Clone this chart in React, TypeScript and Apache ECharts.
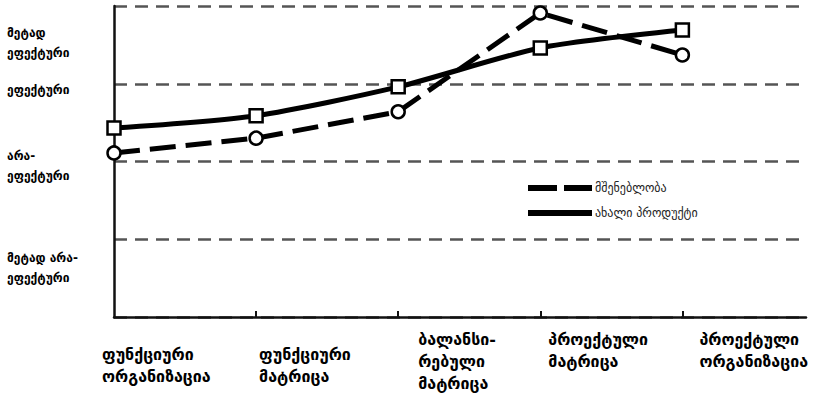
import React, { useEffect, useRef } from "react";
import * as echarts from "echarts";

// ---- data ----
const categories = [
  "ფუნქციური\nორგანიზაცია",
  "ფუნქციური\nმატრიცა",
  "ბალანსი-\nრებული\nმატრიცა",
  "პროექტული\nმატრიცა",
  "პროექტული\nორგანიზაცია",
];
const yLevelLabels = [
  "მეტად\nეფექტური",
  "ეფექტური",
  "არა-\nეფექტური",
  "მეტად არა-\nეფექტური",
];
const seriesNames = ["მშენებლობა", "ახალი პროდუქტი"];
const constructionValues = [2.11, 2.3, 2.64, 3.91, 3.37];
const newProductValues = [2.43, 2.59, 2.96, 3.46, 3.69];

// ---- layout (not data) ----
const yLabelAnchors = [3.52, 2.92, 1.94, 0.63];
const xLabelShift: [number, number][] = [
  [-12, 26],
  [3, 26],
  [20, 11],
  [8, 11],
  [17, 11],
];
const FONT = "'DejaVu Sans', sans-serif";

export default function App() {
  const ref = useRef<HTMLDivElement>(null);
  useEffect(() => {
    if (!ref.current) return;
    const chart = echarts.init(ref.current, undefined, { renderer: "svg" });
    const option: any = {
      animation: false,
      backgroundColor: "#ffffff",
      grid: { left: 114, top: 6, right: 18, bottom: 81, containLabel: false },
      xAxis: {
        type: "value",
        min: 0,
        max: 4.87,
        interval: 1,
        axisLine: { show: true, onZero: false, lineStyle: { color: "#111", width: 2.5 } },
        axisTick: {
          show: true,
          inside: true,
          length: 6,
          customValues: [1, 2, 3, 4],
          lineStyle: { color: "#111", width: 2 },
        },
        axisLabel: { show: false },
        splitLine: { show: false },
      },
      yAxis: {
        type: "value",
        min: 0,
        max: 4,
        interval: 1,
        axisLine: { show: true, lineStyle: { color: "#111", width: 2.5 } },
        axisTick: { show: false },
        axisLabel: { show: false },
        splitLine: {
          show: true,
          lineStyle: { color: "#555", width: 2.5, type: [13, 8] },
        },
      },
      legend: {
        orient: "vertical",
        left: 525,
        top: 182,
        padding: 0,
        itemWidth: 64,
        itemHeight: 12,
        itemGap: 13,
        itemStyle: { opacity: 0 },
        textStyle: { fontFamily: FONT, fontSize: 12, color: "#222", padding: [0, 0, 0, -2] },
        data: [
          { name: seriesNames[0], lineStyle: { type: [29, 7], width: 6, color: "#000" } },
          { name: seriesNames[1], lineStyle: { type: "solid", width: 6, color: "#000" } },
        ],
      },
      series: [
        {
          name: seriesNames[0],
          type: "line",
          data: constructionValues.map((v, i) => [i, v]),
          symbol: "circle",
          symbolSize: 13,
          showAllSymbol: true,
          clip: false,
          z: 3,
          lineStyle: { color: "#000", width: 5, type: [26, 10] },
          itemStyle: { color: "#fff", borderColor: "#000", borderWidth: 2.5 },
        },
        {
          name: seriesNames[1],
          type: "line",
          data: newProductValues.map((v, i) => [i, v]),
          symbol: "rect",
          symbolSize: 13,
          smooth: 0.25,
          clip: false,
          z: 4,
          lineStyle: { color: "#000", width: 5 },
          itemStyle: { color: "#fff", borderColor: "#000", borderWidth: 2.5 },
        },
      ],
    };
    chart.setOption(option);

    const graphics: any[] = [];
    categories.forEach((c, i) => {
      const p = chart.convertToPixel({ gridIndex: 0 }, [i, 0]) as number[];
      graphics.push({
        type: "text",
        x: p[0] + xLabelShift[i][0],
        y: p[1] + xLabelShift[i][1],
        silent: true,
        style: {
          text: c,
          fontFamily: FONT,
          fontWeight: "bold",
          fontSize: 16,
          lineHeight: 22,
          fill: "#000",
          align: "left",
          verticalAlign: "top",
        },
      });
    });
    yLevelLabels.forEach((t, i) => {
      const p = chart.convertToPixel({ gridIndex: 0 }, [0, yLabelAnchors[i]]) as number[];
      graphics.push({
        type: "text",
        x: 7,
        y: p[1],
        silent: true,
        style: {
          text: t,
          fontFamily: FONT,
          fontWeight: "bold",
          fontSize: 12,
          lineHeight: 20,
          fill: "#000",
          align: "left",
          verticalAlign: "middle",
        },
      });
    });
    chart.setOption({ graphic: graphics });

    return () => chart.dispose();
  }, []);
  return (
    <div
      ref={ref}
      style={{ position: "absolute", left: 0, top: 0, width: 824, height: 398 }}
    />
  );
}
